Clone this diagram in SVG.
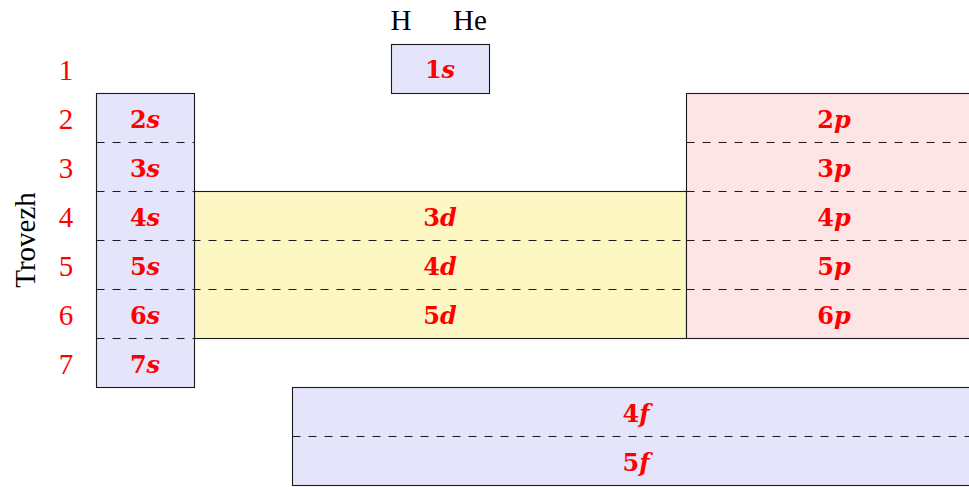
<svg xmlns="http://www.w3.org/2000/svg" width="969" height="487" viewBox="0 0 969 487">
<style>
.blk{stroke:#1a1a1a;stroke-width:1.1}
.s{fill:#e4e4fb}
.d{fill:#fdf8c3}
.p{fill:#fde4e5}
.f{fill:#e4e4fb}
.dash{stroke:#1a1a1a;stroke-width:1.1;stroke-dasharray:8 8;fill:none}
.lbl{font-family:"DejaVu Serif","Liberation Serif","Times New Roman",Times,serif;font-weight:bold;font-size:24px;fill:#f00;text-anchor:middle}
.lbl tspan{font-style:italic}
.num{font-family:"Liberation Serif","Times New Roman",Times,serif;font-size:29px;fill:#f00;text-anchor:middle}
.blk-t{font-family:"Liberation Serif","Times New Roman",Times,serif;font-size:29px;fill:#000;text-anchor:middle}
</style>
<rect width="969" height="487" fill="#fff"/>
<g id="header">
<text class="blk-t" x="401" y="30">H</text>
<text class="blk-t" x="470" y="30">He</text>
<text class="blk-t" transform="translate(35,240) rotate(-90)">Trovezh</text>
</g>
<g id="periods">
<text class="num" x="66" y="80">1</text>
<text class="num" x="66" y="129">2</text>
<text class="num" x="66" y="178">3</text>
<text class="num" x="66" y="227">4</text>
<text class="num" x="66" y="276">5</text>
<text class="num" x="66" y="325">6</text>
<text class="num" x="66" y="374">7</text>
</g>
<g id="block-1s">
<rect class="blk s" x="391.5" y="44.5" width="98" height="49"/>
<text class="lbl" x="440" y="78">1<tspan>s</tspan></text>
</g>
<g id="block-d">
<rect class="blk d" x="194.5" y="191.5" width="492" height="147"/>
<text class="lbl" x="440" y="226">3<tspan>d</tspan></text>
<text class="lbl" x="440" y="275">4<tspan>d</tspan></text>
<text class="lbl" x="440" y="324">5<tspan>d</tspan></text>
</g>
<g id="block-p">
<rect class="blk p" x="686.5" y="93.5" width="296" height="245"/>
<text class="lbl" x="834" y="128">2<tspan>p</tspan></text>
<text class="lbl" x="834" y="177">3<tspan>p</tspan></text>
<text class="lbl" x="834" y="226">4<tspan>p</tspan></text>
<text class="lbl" x="834" y="275">5<tspan>p</tspan></text>
<text class="lbl" x="834" y="324">6<tspan>p</tspan></text>
</g>
<g id="block-s">
<rect class="blk s" x="96.5" y="93.5" width="98" height="294"/>
<text class="lbl" x="145" y="128">2<tspan>s</tspan></text>
<text class="lbl" x="145" y="177">3<tspan>s</tspan></text>
<text class="lbl" x="145" y="226">4<tspan>s</tspan></text>
<text class="lbl" x="145" y="275">5<tspan>s</tspan></text>
<text class="lbl" x="145" y="324">6<tspan>s</tspan></text>
<text class="lbl" x="145" y="373">7<tspan>s</tspan></text>
</g>
<g id="block-f">
<rect class="blk f" x="292.5" y="387.5" width="690" height="98"/>
<text class="lbl" x="636" y="422">4<tspan>f</tspan></text>
<text class="lbl" x="636" y="471">5<tspan>f</tspan></text>
</g>
<g id="dividers">
<line class="dash" x1="96.5" y1="142.5" x2="194.5" y2="142.5"/>
<line class="dash" x1="96.5" y1="191.5" x2="194.5" y2="191.5"/>
<line class="dash" x1="96.5" y1="240.5" x2="686.5" y2="240.5"/>
<line class="dash" x1="96.5" y1="289.5" x2="686.5" y2="289.5"/>
<line class="dash" x1="96.5" y1="338.5" x2="194.5" y2="338.5"/>
<line class="dash" x1="686.5" y1="142.5" x2="982" y2="142.5"/>
<line class="dash" x1="686.5" y1="191.5" x2="982" y2="191.5"/>
<line class="dash" x1="686.5" y1="240.5" x2="982" y2="240.5"/>
<line class="dash" x1="686.5" y1="289.5" x2="982" y2="289.5"/>
<line class="dash" x1="686.5" y1="338.5" x2="982" y2="338.5"/>
<line class="dash" x1="292.5" y1="436.5" x2="982" y2="436.5"/>
</g>
</svg>
